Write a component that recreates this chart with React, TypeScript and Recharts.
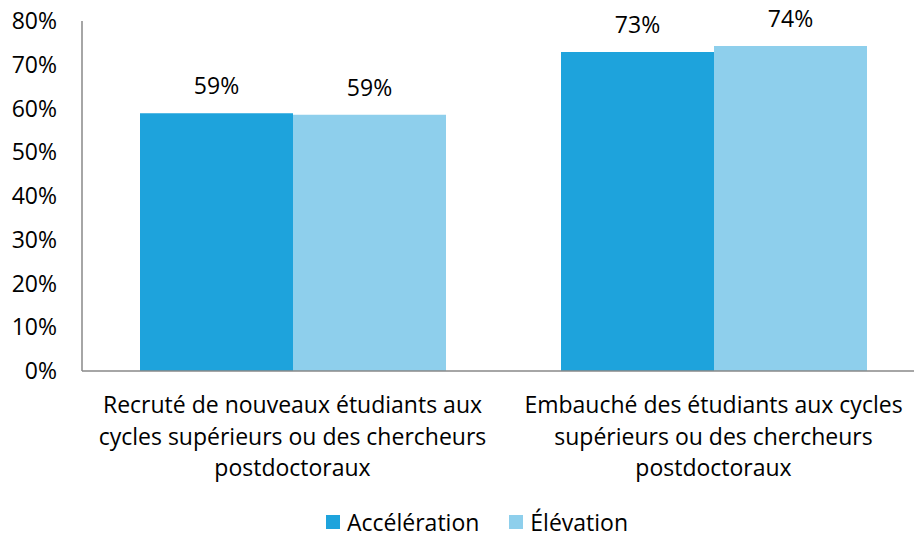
import { BarChart, Bar, XAxis, YAxis, Legend, LabelList } from 'recharts';

const categories = [
  'Recruté de nouveaux étudiants aux cycles supérieurs ou des chercheurs postdoctoraux',
  'Embauché des étudiants aux cycles supérieurs ou des chercheurs postdoctoraux',
];
const categoryLines = [
  ['Recruté de nouveaux étudiants aux', 'cycles supérieurs ou des chercheurs', 'postdoctoraux'],
  ['Embauché des étudiants aux cycles', 'supérieurs ou des chercheurs', 'postdoctoraux'],
];
const acceleration = [58.9, 72.9];
const elevation = [58.6, 74.3];
const yTicks = [0, 10, 20, 30, 40, 50, 60, 70, 80];
const seriesNames = ['Accélération', 'Élévation'];
const colors = ['#1ea3dc', '#8ecfec'];

const FONT = '"Open Sans", "Noto Sans", sans-serif';
const FONT_SIZE = 23;

const data = categories.map((name, i) => ({
  name,
  acceleration: acceleration[i],
  elevation: elevation[i],
}));

const pct = (v: number) => `${Math.round(v)}%`;

function CategoryTick({ x, y, payload }: any) {
  const idx = categories.indexOf(payload.value);
  const lines = categoryLines[idx] || [payload.value];
  return (
    <text x={x} y={y} textAnchor="middle" fontFamily={FONT} fontSize={FONT_SIZE} fill="#000">
      {lines.map((line, i) => (
        <tspan key={i} x={x} dy={i === 0 ? 42 : 31.5}>
          {line}
        </tspan>
      ))}
    </text>
  );
}

function renderLegend() {
  return (
    <div
      style={{
        display: 'flex',
        alignItems: 'center',
        height: 32,
        fontFamily: FONT,
        fontSize: FONT_SIZE,
        lineHeight: '32px',
        color: '#000',
        whiteSpace: 'nowrap',
      }}
    >
      {seriesNames.map((name, i) => (
        <div key={name} style={{ display: 'flex', alignItems: 'center', marginRight: i === 0 ? 30 : 0 }}>
          <span style={{ display: 'inline-block', width: 14, height: 14, background: colors[i], marginRight: 7 }} />
          <span>{name}</span>
        </div>
      ))}
    </div>
  );
}

export default function App() {
  return (
    <div style={{ position: 'fixed', left: 0, top: 0, width: 914, height: 538, overflow: 'hidden', background: '#fff' }}>
      <BarChart
        width={930}
        height={538}
        data={data}
        margin={{ top: 21, right: 6, bottom: 47, left: 0 }}
        barCategoryGap={58}
        barGap={0}
      >
        <XAxis
          dataKey="name"
          height={120}
          tickSize={0}
          tickMargin={0}
          tickLine={false}
          axisLine={{ stroke: '#898989', strokeWidth: 1.5 }}
          tick={<CategoryTick />}
          interval={0}
        />
        <YAxis
          width={82}
          domain={[0, 80]}
          ticks={yTicks}
          tickFormatter={(v: number) => `${v}%`}
          tickSize={0}
          tickMargin={25}
          tickLine={false}
          axisLine={{ stroke: '#898989', strokeWidth: 1.5 }}
          tick={{ fill: '#000', fontFamily: FONT, fontSize: FONT_SIZE }}
        />
        <Legend
          verticalAlign="middle"
          align="center"
          content={renderLegend}
          wrapperStyle={{ top: 506, left: 326, width: 420, height: 32 }}
        />
        <Bar dataKey="acceleration" name={seriesNames[0]} fill={colors[0]} isAnimationActive={false}>
          <LabelList
            dataKey="acceleration"
            position="top"
            offset={19}
            formatter={pct}
            fill="#000"
            fontFamily={FONT}
            fontSize={FONT_SIZE}
          />
        </Bar>
        <Bar dataKey="elevation" name={seriesNames[1]} fill={colors[1]} isAnimationActive={false}>
          <LabelList
            dataKey="elevation"
            position="top"
            offset={19}
            formatter={pct}
            fill="#000"
            fontFamily={FONT}
            fontSize={FONT_SIZE}
          />
        </Bar>
      </BarChart>
    </div>
  );
}
